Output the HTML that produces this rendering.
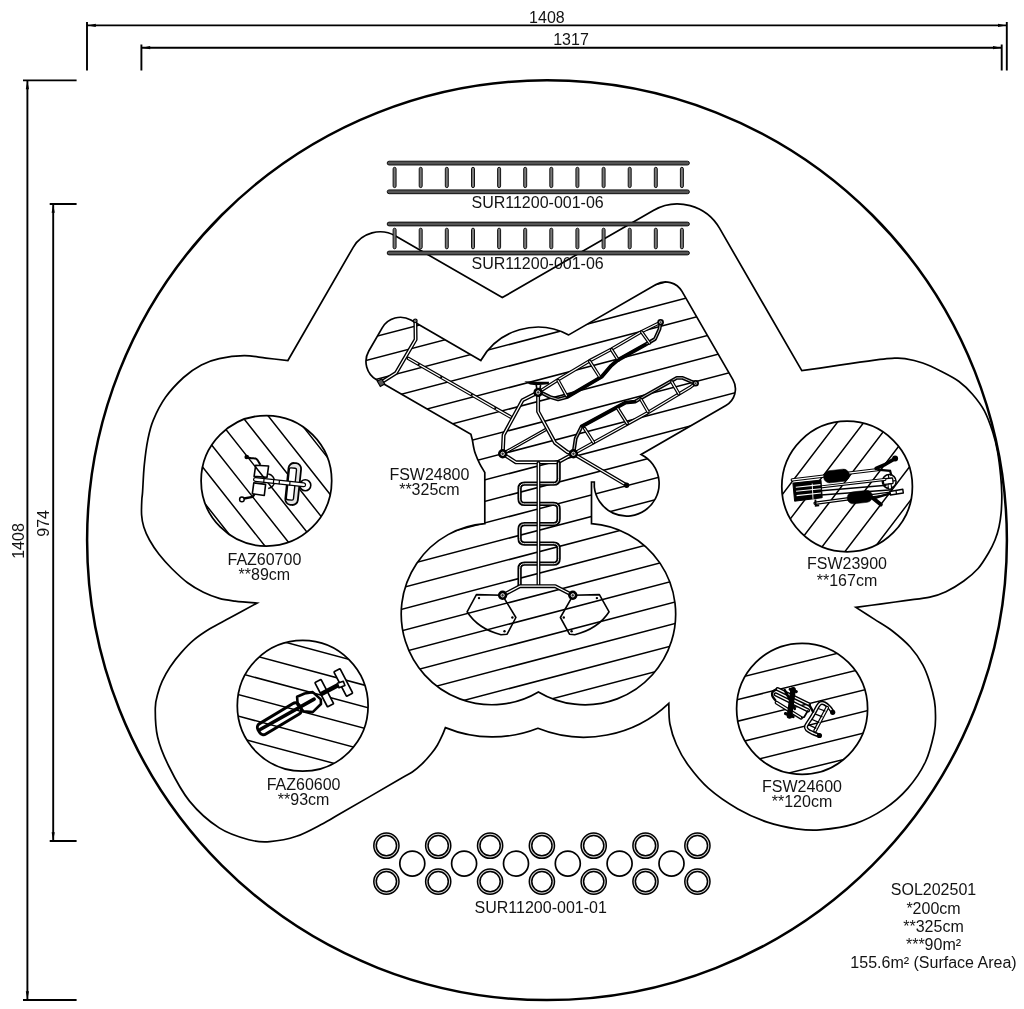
<!DOCTYPE html>
<html><head><meta charset="utf-8"><title>SOL202501</title>
<style>
html,body{margin:0;padding:0;background:#fff;}
body{width:1024px;height:1009px;overflow:hidden;font-family:"Liberation Sans",sans-serif;}
svg{display:block;}
text{font-family:"Liberation Sans",sans-serif;font-size:16px;fill:#111;text-anchor:middle;}
</style></head><body>
<svg width="1024" height="1009" viewBox="0 0 1024 1009">
<rect width="1024" height="1009" fill="#fff"/>
<g stroke="#000" stroke-width="1.9" fill="none" stroke-linecap="butt">
<path d="M87,22V70.5M1006.8,22V70.5M87,25.4H1006.8"/>
<path d="M141.4,44.4V70.5M1001.7,44.4V70.5M141.4,47.7H1001.7"/>
<path d="M23,80.4H76.6M23,1000H76.6M27.4,80.4V1000"/>
<path d="M49.7,204H76.6M49.7,841H76.6M53.2,204V841"/>
</g>
<path d="M87.8,25.4L95.8,23.8L95.8,27Z" fill="#000"/>
<path d="M1006,25.4L998,27L998,23.8Z" fill="#000"/>
<path d="M142.2,47.7L150.2,46.1L150.2,49.3Z" fill="#000"/>
<path d="M1001,47.7L993,49.3L993,46.1Z" fill="#000"/>
<path d="M27.4,81.2L29,89.2L25.8,89.2Z" fill="#000"/>
<path d="M27.4,999.2L25.8,991.2L29,991.2Z" fill="#000"/>
<path d="M53.2,204.8L54.8,212.8L51.6,212.8Z" fill="#000"/>
<path d="M53.2,840.2L51.6,832.2L54.8,832.2Z" fill="#000"/>
<circle cx="547" cy="540.2" r="459.9" fill="none" stroke="#000" stroke-width="2.5"/>
<path d="M287.9,360.5L353.2,247.3A31,31 0 0 1 395.6,236L502.3,297.6L653.3,210.4A48.5,48.5 0 0 1 719.5,228.2L801.8,370.7C804.8,370.3 812,369.3 820,368.1C828,366.9 840,365.1 850,363.7C860,362.2 872.9,360.3 879.9,359.4C886.9,358.5 887.8,358.4 892,358.3C896.2,358.2 899.8,357.8 904.9,358.6C910,359.4 916.8,360.9 922.7,363C928.6,365.1 934.5,367.9 940.5,371C946.5,374.1 953.7,377.6 959,381.5C964.3,385.4 968.3,389.4 972.5,394.3C976.7,399.2 981,404.6 984.4,410.9C987.8,417.2 990.6,425.6 992.8,432.3C995,439.1 996.2,444.3 997.5,451.4C998.8,458.5 999.9,468 1000.6,475.1C1001.3,482.2 1001.7,487.8 1001.8,494.2C1001.9,500.6 1001.6,507.7 1001.1,513.2C1000.6,518.7 1000,522.5 999,527C998,531.5 996.7,535.8 995,540C993.3,544.2 991.6,547.8 988.8,552.5C986,557.2 982.3,563.8 978.1,568.5C973.9,573.2 969.2,577.1 963.8,581C958.4,584.9 951.5,589 945.9,591.7C940.2,594.4 936.7,595.6 929.9,597.1C923.1,598.6 913.3,599.4 905,600.6C896.7,601.8 888.2,603 880,604.1C871.8,605.2 859.9,606.9 855.9,607.4C859,609.4 868.5,615.5 874.6,619.4C880.7,623.3 886.5,626.4 892.4,631C898.3,635.6 905.2,641.4 910.3,647C915.4,652.6 919.5,658.9 922.8,664.9C926.1,670.9 928,676.8 929.9,682.7C931.8,688.6 933.5,695.1 934.4,700.5C935.3,705.9 935.5,709.6 935.5,715C935.5,720.4 935.9,724.9 934.2,732.7C932.5,740.5 929.8,752.7 925.4,762C921,771.3 914.6,780.6 907.8,788.4C901,796.2 893.2,803 884.4,808.9C875.6,814.8 865.9,820.1 855.1,823.6C844.4,827.1 829.7,829 819.9,829.9C810.1,830.8 805.3,830.1 796.5,828.8C787.7,827.5 777,825.4 767.2,822.1C757.4,818.8 747.7,814.5 737.9,808.9C728.1,803.3 716.9,795.7 708.6,788.4C700.3,781.1 693.5,772.3 688.1,765C682.7,757.7 679.4,751.3 676.4,744.5C673.4,737.7 671.2,730.9 669.9,724C668.6,717.1 669,706.8 668.8,703.3A123.3,123.3 0 0 1 537.9,728.3A123.3,123.3 0 0 1 445.4,727.6C444.8,729 443.5,732.8 442.1,735.7C440.8,738.6 439.1,742.2 437.3,745.2C435.5,748.2 434,750.3 431.4,753.5C428.8,756.7 425,761.1 421.8,764.2C418.6,767.3 415.9,769.5 412.3,772C408.7,774.5 412.1,772.1 400,779.1C387.9,786.1 352.8,806.4 340,813.8C327.2,821.2 330.6,819.6 323.3,823.4C316.1,827.1 305.4,833.3 296.5,836.3C287.6,839.3 277.7,841 269.8,841.6C261.9,842.2 257.3,842.1 248.9,839.8C240.5,837.5 229.1,834.3 219.2,827.9C209.3,821.5 197.9,811.4 189.5,801.1C181.1,790.8 174,776.7 168.7,766C163.4,755.3 159.8,746.7 157.6,737C155.4,727.3 155.2,715.2 155.3,707.9C155.4,700.6 156.8,697.5 158,693C159.2,688.5 160.2,685.5 162.2,681.1C164.2,676.8 166.9,671.6 170.1,666.9C173.3,662.1 177.2,657.1 181.2,652.6C185.2,648.1 189.1,643.9 193.9,639.9C198.7,635.9 203.8,632.5 209.8,628.8C215.8,625.1 222.1,622.1 230,617.8C237.9,613.5 252.5,605.5 257,603.1C253.3,602.8 241.4,601.9 235.1,601.1C228.8,600.3 224.6,599.9 219.3,598.4C214,596.9 208.7,594.9 203.4,592.3C198.1,589.7 192.9,586.8 187.6,582.8C182.3,578.8 176.5,573.2 171.7,568.5C166.9,563.8 162.7,559 159,554.3C155.3,549.5 152,544.5 149.5,540C147,535.5 145.1,531.2 143.8,527C142.5,522.8 141.9,519.5 141.6,515C141.3,510.5 141.6,503.9 141.8,500C142,496.1 142.2,497.5 142.6,491.6C143,485.8 143.4,473.5 144.3,464.9C145.2,456.3 146.3,447.3 147.8,439.9C149.3,432.5 150.2,427.4 153.2,420.3C156.2,413.2 160.6,404.2 165.7,397.1C170.8,390 177.6,382.9 183.5,377.5C189.4,372.1 195.5,368.1 201.4,365C207.3,361.9 212.1,360.2 219.2,358.7C226.3,357.1 236.4,355.8 244.2,355.7C252,355.6 258.7,357.3 266,358.1C273.3,358.9 284.2,360.1 287.9,360.5Z" fill="none" stroke="#000" stroke-width="1.7" stroke-linejoin="miter"/>
<rect x="387.2" y="161.2" width="302.2" height="3.8" rx="1.9" fill="#555" stroke="#000" stroke-width="0.9"/>
<rect x="387.2" y="189.9" width="302.2" height="3.8" rx="1.9" fill="#555" stroke="#000" stroke-width="0.9"/>
<rect x="393.1" y="167.3" width="3" height="20.3" rx="1.5" fill="#777" stroke="#000" stroke-width="0.9"/>
<rect x="419.2" y="167.3" width="3" height="20.3" rx="1.5" fill="#777" stroke="#000" stroke-width="0.9"/>
<rect x="445.3" y="167.3" width="3" height="20.3" rx="1.5" fill="#777" stroke="#000" stroke-width="0.9"/>
<rect x="471.5" y="167.3" width="3" height="20.3" rx="1.5" fill="#777" stroke="#000" stroke-width="0.9"/>
<rect x="497.6" y="167.3" width="3" height="20.3" rx="1.5" fill="#777" stroke="#000" stroke-width="0.9"/>
<rect x="523.7" y="167.3" width="3" height="20.3" rx="1.5" fill="#777" stroke="#000" stroke-width="0.9"/>
<rect x="549.8" y="167.3" width="3" height="20.3" rx="1.5" fill="#777" stroke="#000" stroke-width="0.9"/>
<rect x="575.9" y="167.3" width="3" height="20.3" rx="1.5" fill="#777" stroke="#000" stroke-width="0.9"/>
<rect x="602.1" y="167.3" width="3" height="20.3" rx="1.5" fill="#777" stroke="#000" stroke-width="0.9"/>
<rect x="628.2" y="167.3" width="3" height="20.3" rx="1.5" fill="#777" stroke="#000" stroke-width="0.9"/>
<rect x="654.3" y="167.3" width="3" height="20.3" rx="1.5" fill="#777" stroke="#000" stroke-width="0.9"/>
<rect x="680.4" y="167.3" width="3" height="20.3" rx="1.5" fill="#777" stroke="#000" stroke-width="0.9"/>
<rect x="387.2" y="222.1" width="302.2" height="3.8" rx="1.9" fill="#555" stroke="#000" stroke-width="0.9"/>
<rect x="387.2" y="251.1" width="302.2" height="3.8" rx="1.9" fill="#555" stroke="#000" stroke-width="0.9"/>
<rect x="393.1" y="228.2" width="3" height="20.6" rx="1.5" fill="#777" stroke="#000" stroke-width="0.9"/>
<rect x="419.2" y="228.2" width="3" height="20.6" rx="1.5" fill="#777" stroke="#000" stroke-width="0.9"/>
<rect x="445.3" y="228.2" width="3" height="20.6" rx="1.5" fill="#777" stroke="#000" stroke-width="0.9"/>
<rect x="471.5" y="228.2" width="3" height="20.6" rx="1.5" fill="#777" stroke="#000" stroke-width="0.9"/>
<rect x="497.6" y="228.2" width="3" height="20.6" rx="1.5" fill="#777" stroke="#000" stroke-width="0.9"/>
<rect x="523.7" y="228.2" width="3" height="20.6" rx="1.5" fill="#777" stroke="#000" stroke-width="0.9"/>
<rect x="549.8" y="228.2" width="3" height="20.6" rx="1.5" fill="#777" stroke="#000" stroke-width="0.9"/>
<rect x="575.9" y="228.2" width="3" height="20.6" rx="1.5" fill="#777" stroke="#000" stroke-width="0.9"/>
<rect x="602.1" y="228.2" width="3" height="20.6" rx="1.5" fill="#777" stroke="#000" stroke-width="0.9"/>
<rect x="628.2" y="228.2" width="3" height="20.6" rx="1.5" fill="#777" stroke="#000" stroke-width="0.9"/>
<rect x="654.3" y="228.2" width="3" height="20.6" rx="1.5" fill="#777" stroke="#000" stroke-width="0.9"/>
<rect x="680.4" y="228.2" width="3" height="20.6" rx="1.5" fill="#777" stroke="#000" stroke-width="0.9"/>
<circle cx="386.4" cy="845.7" r="12.6" fill="#ddd" stroke="#000" stroke-width="1.5"/>
<circle cx="386.4" cy="845.7" r="10.1" fill="#fff" stroke="#000" stroke-width="1.5"/>
<circle cx="386.4" cy="881.6" r="12.6" fill="#ddd" stroke="#000" stroke-width="1.5"/>
<circle cx="386.4" cy="881.6" r="10.1" fill="#fff" stroke="#000" stroke-width="1.5"/>
<circle cx="438.2" cy="845.7" r="12.6" fill="#ddd" stroke="#000" stroke-width="1.5"/>
<circle cx="438.2" cy="845.7" r="10.1" fill="#fff" stroke="#000" stroke-width="1.5"/>
<circle cx="438.2" cy="881.6" r="12.6" fill="#ddd" stroke="#000" stroke-width="1.5"/>
<circle cx="438.2" cy="881.6" r="10.1" fill="#fff" stroke="#000" stroke-width="1.5"/>
<circle cx="490.1" cy="845.7" r="12.6" fill="#ddd" stroke="#000" stroke-width="1.5"/>
<circle cx="490.1" cy="845.7" r="10.1" fill="#fff" stroke="#000" stroke-width="1.5"/>
<circle cx="490.1" cy="881.6" r="12.6" fill="#ddd" stroke="#000" stroke-width="1.5"/>
<circle cx="490.1" cy="881.6" r="10.1" fill="#fff" stroke="#000" stroke-width="1.5"/>
<circle cx="541.9" cy="845.7" r="12.6" fill="#ddd" stroke="#000" stroke-width="1.5"/>
<circle cx="541.9" cy="845.7" r="10.1" fill="#fff" stroke="#000" stroke-width="1.5"/>
<circle cx="541.9" cy="881.6" r="12.6" fill="#ddd" stroke="#000" stroke-width="1.5"/>
<circle cx="541.9" cy="881.6" r="10.1" fill="#fff" stroke="#000" stroke-width="1.5"/>
<circle cx="593.7" cy="845.7" r="12.6" fill="#ddd" stroke="#000" stroke-width="1.5"/>
<circle cx="593.7" cy="845.7" r="10.1" fill="#fff" stroke="#000" stroke-width="1.5"/>
<circle cx="593.7" cy="881.6" r="12.6" fill="#ddd" stroke="#000" stroke-width="1.5"/>
<circle cx="593.7" cy="881.6" r="10.1" fill="#fff" stroke="#000" stroke-width="1.5"/>
<circle cx="645.5" cy="845.7" r="12.6" fill="#ddd" stroke="#000" stroke-width="1.5"/>
<circle cx="645.5" cy="845.7" r="10.1" fill="#fff" stroke="#000" stroke-width="1.5"/>
<circle cx="645.5" cy="881.6" r="12.6" fill="#ddd" stroke="#000" stroke-width="1.5"/>
<circle cx="645.5" cy="881.6" r="10.1" fill="#fff" stroke="#000" stroke-width="1.5"/>
<circle cx="697.4" cy="845.7" r="12.6" fill="#ddd" stroke="#000" stroke-width="1.5"/>
<circle cx="697.4" cy="845.7" r="10.1" fill="#fff" stroke="#000" stroke-width="1.5"/>
<circle cx="697.4" cy="881.6" r="12.6" fill="#ddd" stroke="#000" stroke-width="1.5"/>
<circle cx="697.4" cy="881.6" r="10.1" fill="#fff" stroke="#000" stroke-width="1.5"/>
<circle cx="412.3" cy="863.6" r="12.5" fill="none" stroke="#000" stroke-width="1.7"/>
<circle cx="464.1" cy="863.6" r="12.5" fill="none" stroke="#000" stroke-width="1.7"/>
<circle cx="516" cy="863.6" r="12.5" fill="none" stroke="#000" stroke-width="1.7"/>
<circle cx="567.8" cy="863.6" r="12.5" fill="none" stroke="#000" stroke-width="1.7"/>
<circle cx="619.6" cy="863.6" r="12.5" fill="none" stroke="#000" stroke-width="1.7"/>
<circle cx="671.5" cy="863.6" r="12.5" fill="none" stroke="#000" stroke-width="1.7"/>
<clipPath id="cc"><path d="M480.8,360.5L410.9,320.1A21,21 0 0 0 382.2,327.8L368.8,351A21,21 0 0 0 376.5,379.7L470.9,434.2C471.1,435.2 471.9,437.9 472.4,440C472.8,442.1 473.1,444.7 473.6,447C474.1,449.3 474.3,450.9 475.4,453.8C476.4,456.7 478.3,461 479.9,464.1C481.5,467.2 484,471.1 484.8,472.5L484.8,523.6A90.7,90.7 0 1 0 538.4,691.9A90.7,90.7 0 1 0 591.5,523.6L591.5,482L594.3,482L594.3,487A32.5,32.5 0 1 0 641.1,454.5L725.9,405.5A19,19 0 0 0 732.9,379.6L682,291.4A19,19 0 0 0 656,284.5L568.7,334.9A65.4,65.4 0 0 0 480.8,360.5Z"/></clipPath>
<path d="M340,66.4L760,-43.7M340,87.9L760,-22.2M340,109.4L760,-0.7M340,130.9L760,20.8M340,152.4L760,42.3M340,173.9L760,63.8M340,195.4L760,85.3M340,216.9L760,106.8M340,238.4L760,128.3M340,259.9L760,149.8M340,281.4L760,171.3M340,302.9L760,192.8M340,324.4L760,214.3M340,345.9L760,235.8M340,367.4L760,257.3M340,388.9L760,278.8M340,410.4L760,300.3M340,431.9L760,321.8M340,453.4L760,343.3M340,474.9L760,364.8M340,496.4L760,386.3M340,517.9L760,407.8M340,539.4L760,429.3M340,560.9L760,450.8M340,582.4L760,472.3M340,603.9L760,493.8M340,625.4L760,515.3M340,646.9L760,536.8M340,668.4L760,558.3M340,689.9L760,579.8M340,711.4L760,601.3M340,732.9L760,622.8M340,754.4L760,644.3M340,775.9L760,665.8M340,797.4L760,687.3M340,818.9L760,708.8M340,840.4L760,730.3" clip-path="url(#cc)" stroke="#000" stroke-width="1.5" fill="none"/>
<path d="M480.8,360.5L410.9,320.1A21,21 0 0 0 382.2,327.8L368.8,351A21,21 0 0 0 376.5,379.7L470.9,434.2C471.1,435.2 471.9,437.9 472.4,440C472.8,442.1 473.1,444.7 473.6,447C474.1,449.3 474.3,450.9 475.4,453.8C476.4,456.7 478.3,461 479.9,464.1C481.5,467.2 484,471.1 484.8,472.5L484.8,523.6A90.7,90.7 0 1 0 538.4,691.9A90.7,90.7 0 1 0 591.5,523.6L591.5,482L594.3,482L594.3,487A32.5,32.5 0 1 0 641.1,454.5L725.9,405.5A19,19 0 0 0 732.9,379.6L682,291.4A19,19 0 0 0 656,284.5L568.7,334.9A65.4,65.4 0 0 0 480.8,360.5Z" fill="none" stroke="#000" stroke-width="1.7"/>
<path d="M408.5,358.5L510.6,417" fill="none" stroke="#000" stroke-width="3.74" stroke-linejoin="round" stroke-linecap="round" />
<path d="M408.5,358.5L510.6,417" fill="none" stroke="#fff" stroke-width="1.25" stroke-linejoin="round" stroke-linecap="round"/>
<path d="M415.4,322L415.6,339.6L396,373L381,382.5" fill="none" stroke="#000" stroke-width="3.98" stroke-linejoin="round" stroke-linecap="round" />
<path d="M415.4,322L415.6,339.6L396,373L381,382.5" fill="none" stroke="#fff" stroke-width="1.25" stroke-linejoin="round" stroke-linecap="round"/>
<circle cx="415.3" cy="320.8" r="2.4" fill="#000"/><circle cx="415.3" cy="320.8" r="0.86" fill="#333" stroke="#eee" stroke-width="0.48"/>
<path d="M377.3,381.3l3,5.2l4.4,-2.5l-3,-5.2z" fill="#555" stroke="#000" stroke-width="1.2"/>
<circle cx="418.7" cy="364.4" r="1.1" fill="#000"/>
<circle cx="441.2" cy="377.2" r="1.1" fill="#000"/>
<circle cx="471.8" cy="394.8" r="1.1" fill="#000"/>
<circle cx="495.3" cy="408.2" r="1.1" fill="#000"/>
<path d="M573.4,453.8L626.6,485.2" fill="none" stroke="#000" stroke-width="3.74" stroke-linejoin="round" stroke-linecap="round" />
<path d="M573.4,453.8L626.6,485.2" fill="none" stroke="#fff" stroke-width="1.25" stroke-linejoin="round" stroke-linecap="round"/>
<circle cx="626.6" cy="485.3" r="2.7" fill="#000"/>
<path d="M502.7,453.8L547.2,428.8" fill="none" stroke="#000" stroke-width="3.28" stroke-linejoin="round" stroke-linecap="round" />
<path d="M502.7,453.8L547.2,428.8" fill="none" stroke="#fff" stroke-width="1.0" stroke-linejoin="round" stroke-linecap="round"/>
<path d="M538.1,392.4L522.5,400.3L503.6,435L502.7,453.8" fill="none" stroke="#000" stroke-width="3.98" stroke-linejoin="round" stroke-linecap="round" />
<path d="M538.1,392.4L522.5,400.3L503.6,435L502.7,453.8" fill="none" stroke="#fff" stroke-width="1.25" stroke-linejoin="round" stroke-linecap="round"/>
<path d="M538.1,394L538.1,411.6L555,442.8L567.5,452.2L573.4,453.8" fill="none" stroke="#000" stroke-width="3.98" stroke-linejoin="round" stroke-linecap="round" />
<path d="M538.1,394L538.1,411.6L555,442.8L567.5,452.2L573.4,453.8" fill="none" stroke="#fff" stroke-width="1.25" stroke-linejoin="round" stroke-linecap="round"/>
<path d="M502.7,453.8L515.9,462.3L558.1,462.3L573.4,453.8" fill="none" stroke="#000" stroke-width="3.98" stroke-linejoin="round" stroke-linecap="round" />
<path d="M502.7,453.8L515.9,462.3L558.1,462.3L573.4,453.8" fill="none" stroke="#fff" stroke-width="1.25" stroke-linejoin="round" stroke-linecap="round"/>
<path d="M538.1,392.4L558.1,379.7L589.4,360.9L611.3,349.2L640.9,332L655,325L660.6,322.2" fill="none" stroke="#000" stroke-width="3.51" stroke-linejoin="round" stroke-linecap="round" />
<path d="M538.1,392.4L558.1,379.7L589.4,360.9L611.3,349.2L640.9,332L655,325L660.6,322.2" fill="none" stroke="#fff" stroke-width="1.12" stroke-linejoin="round" stroke-linecap="round"/>
<path d="M543,393.5L550,397L558.1,399.4L567.5,396.9L601.9,376.6L611.3,365.6L617.5,360.2L645.6,344.5L655,339L659.5,329L660.6,322.2" fill="none" stroke="#000" stroke-width="3.86" stroke-linejoin="round" stroke-linecap="round" />
<path d="M543,393.5L550,397L558.1,399.4L567.5,396.9L601.9,376.6L611.3,365.6L617.5,360.2L645.6,344.5L655,339L659.5,329L660.6,322.2" fill="none" stroke="#fff" stroke-width="0.75" stroke-linejoin="round" stroke-linecap="round"/>
<path d="M558.1,380.5L566.7,396.1" fill="none" stroke="#000" stroke-width="3.51" stroke-linejoin="round" stroke-linecap="round" />
<path d="M558.1,380.5L566.7,396.1" fill="none" stroke="#fff" stroke-width="1.12" stroke-linejoin="round" stroke-linecap="round"/>
<path d="M589.7,361.3L599.5,376.6" fill="none" stroke="#000" stroke-width="3.51" stroke-linejoin="round" stroke-linecap="round" />
<path d="M589.7,361.3L599.5,376.6" fill="none" stroke="#fff" stroke-width="1.12" stroke-linejoin="round" stroke-linecap="round"/>
<path d="M611.6,349.7L618.3,360.2" fill="none" stroke="#000" stroke-width="3.51" stroke-linejoin="round" stroke-linecap="round" />
<path d="M611.6,349.7L618.3,360.2" fill="none" stroke="#fff" stroke-width="1.12" stroke-linejoin="round" stroke-linecap="round"/>
<path d="M641.7,332L649.5,343" fill="none" stroke="#000" stroke-width="3.51" stroke-linejoin="round" stroke-linecap="round" />
<path d="M641.7,332L649.5,343" fill="none" stroke="#fff" stroke-width="1.12" stroke-linejoin="round" stroke-linecap="round"/>
<path d="M573.4,453.8L648,412.6L690.6,386.9L695.6,383.3" fill="none" stroke="#000" stroke-width="3.51" stroke-linejoin="round" stroke-linecap="round" />
<path d="M573.4,453.8L648,412.6L690.6,386.9L695.6,383.3" fill="none" stroke="#fff" stroke-width="1.12" stroke-linejoin="round" stroke-linecap="round"/>
<path d="M573.4,453.8L575.7,438.4L581.6,426.5L625.2,402.7L635.1,401.7L645.1,395.8L676.8,377.9L682.7,377.9L690.6,381.3L695.6,383.3" fill="none" stroke="#000" stroke-width="3.86" stroke-linejoin="round" stroke-linecap="round" />
<path d="M573.4,453.8L575.7,438.4L581.6,426.5L625.2,402.7L635.1,401.7L645.1,395.8L676.8,377.9L682.7,377.9L690.6,381.3L695.6,383.3" fill="none" stroke="#fff" stroke-width="0.75" stroke-linejoin="round" stroke-linecap="round"/>
<path d="M584.6,428.5L593.5,442.4" fill="none" stroke="#000" stroke-width="3.51" stroke-linejoin="round" stroke-linecap="round" />
<path d="M584.6,428.5L593.5,442.4" fill="none" stroke="#fff" stroke-width="1.12" stroke-linejoin="round" stroke-linecap="round"/>
<path d="M617.3,407.7L627.2,423.5" fill="none" stroke="#000" stroke-width="3.51" stroke-linejoin="round" stroke-linecap="round" />
<path d="M617.3,407.7L627.2,423.5" fill="none" stroke="#fff" stroke-width="1.12" stroke-linejoin="round" stroke-linecap="round"/>
<path d="M641.1,399.7L648,411.6" fill="none" stroke="#000" stroke-width="3.51" stroke-linejoin="round" stroke-linecap="round" />
<path d="M641.1,399.7L648,411.6" fill="none" stroke="#fff" stroke-width="1.12" stroke-linejoin="round" stroke-linecap="round"/>
<path d="M671.8,381.9L678.8,393.8" fill="none" stroke="#000" stroke-width="3.51" stroke-linejoin="round" stroke-linecap="round" />
<path d="M671.8,381.9L678.8,393.8" fill="none" stroke="#fff" stroke-width="1.12" stroke-linejoin="round" stroke-linecap="round"/>
<path d="M567.5,396.9L601.9,376.6L611.3,365.6L617.5,360.2L645.6,344.5M581.6,426.5L625.2,402.7L635.1,401.7" fill="none" stroke="#000" stroke-width="2.6" stroke-linejoin="round" stroke-linecap="round"/>
<circle cx="660.6" cy="322.2" r="3.3" fill="#000"/><circle cx="660.6" cy="322.2" r="1.19" fill="#333" stroke="#eee" stroke-width="0.66"/>
<circle cx="695.6" cy="383.3" r="3.3" fill="#000"/><circle cx="695.6" cy="383.3" r="1.19" fill="#333" stroke="#eee" stroke-width="0.66"/>
<path d="M524.3,381.2L530,384.6L536,385.2L548.8,384.2L549,381.8L536,381.8Z" fill="#000"/>
<path d="M536.2,385L537.4,392M540.6,385L539.4,392" stroke="#000" stroke-width="1.6"/>
<path d="M558.6,463V478.7Q558.6,483.7 553.6,483.7H524.6Q519.6,483.7 519.6,488.7V498.9Q519.6,503.9 524.6,503.9H553.6Q558.6,503.9 558.6,508.9V519.1Q558.6,524.1 553.6,524.1H524.6Q519.6,524.1 519.6,529.1V538.6Q519.6,543.6 524.6,543.6H553.6Q558.6,543.6 558.6,548.6V558.7Q558.6,563.7 553.6,563.7H524.6Q519.6,563.7 519.6,568.7V586" fill="none" stroke="#000" stroke-width="4.33" stroke-linejoin="round" stroke-linecap="round" />
<path d="M558.6,463V478.7Q558.6,483.7 553.6,483.7H524.6Q519.6,483.7 519.6,488.7V498.9Q519.6,503.9 524.6,503.9H553.6Q558.6,503.9 558.6,508.9V519.1Q558.6,524.1 553.6,524.1H524.6Q519.6,524.1 519.6,529.1V538.6Q519.6,543.6 524.6,543.6H553.6Q558.6,543.6 558.6,548.6V558.7Q558.6,563.7 553.6,563.7H524.6Q519.6,563.7 519.6,568.7V586" fill="none" stroke="#e8e8e8" stroke-width="1.0" stroke-linejoin="round" stroke-linecap="round"/>
<path d="M538.45,463V585.5" fill="none" stroke="#000" stroke-width="3.86" stroke-linejoin="round" stroke-linecap="round" />
<path d="M538.45,463V585.5" fill="none" stroke="#fff" stroke-width="1.25" stroke-linejoin="round" stroke-linecap="round"/>
<path d="M502.6,595.3L519.8,586.2L555.3,586.2L572.8,595.3" fill="none" stroke="#000" stroke-width="3.98" stroke-linejoin="round" stroke-linecap="round" />
<path d="M502.6,595.3L519.8,586.2L555.3,586.2L572.8,595.3" fill="none" stroke="#fff" stroke-width="1.25" stroke-linejoin="round" stroke-linecap="round"/>
<path d="M502.4,595.3L476.4,594.6L467.1,611.8Q478,629 501,634.7L507.1,634.2L515.9,617.5ZM573,595.3L599.4,594.6L609.1,611.8Q598,629 574.8,634.7L569.5,634.2L560.4,617.5Z" fill="none" stroke="#000" stroke-width="1.6" stroke-linejoin="round"/>
<circle cx="479" cy="598.1" r="1.2" fill="#000"/>
<circle cx="512.4" cy="617.5" r="1.2" fill="#000"/>
<circle cx="504.5" cy="631.2" r="1.2" fill="#000"/>
<circle cx="596.9" cy="598.1" r="1.2" fill="#000"/>
<circle cx="563.8" cy="617.5" r="1.2" fill="#000"/>
<circle cx="571.6" cy="631.2" r="1.2" fill="#000"/>
<circle cx="538.1" cy="392.4" r="4.7" fill="#000"/><circle cx="538.1" cy="392.4" r="1.69" fill="#333" stroke="#eee" stroke-width="0.94"/>
<circle cx="502.7" cy="453.8" r="4.7" fill="#000"/><circle cx="502.7" cy="453.8" r="1.69" fill="#333" stroke="#eee" stroke-width="0.94"/>
<circle cx="573.4" cy="453.8" r="4.7" fill="#000"/><circle cx="573.4" cy="453.8" r="1.69" fill="#333" stroke="#eee" stroke-width="0.94"/>
<circle cx="502.6" cy="595.3" r="4.7" fill="#000"/><circle cx="502.6" cy="595.3" r="1.69" fill="#333" stroke="#eee" stroke-width="0.94"/>
<circle cx="572.8" cy="595.3" r="4.7" fill="#000"/><circle cx="572.8" cy="595.3" r="1.69" fill="#333" stroke="#eee" stroke-width="0.94"/>
<clipPath id="c1"><circle cx="266.4" cy="480.8" r="65.3"/></clipPath>
<path d="M190,283.4L345,479.6M190,316.9L345,513.2M190,350.5L345,546.7M190,384L345,580.3M190,417.6L345,613.8M190,451.1L345,647.4M190,484.7L345,680.9" clip-path="url(#c1)" stroke="#000" stroke-width="1.5" fill="none"/>
<circle cx="266.4" cy="480.8" r="65.3" fill="none" stroke="#000" stroke-width="1.75"/>
<clipPath id="c2"><circle cx="302.7" cy="705.8" r="65.4"/></clipPath>
<path d="M230,627.4L380,667.6M230,649.1L380,689.3M230,670.7L380,710.9M230,692.3L380,732.5M230,713.9L380,754.1M230,735.5L380,775.7" clip-path="url(#c2)" stroke="#000" stroke-width="1.5" fill="none"/>
<circle cx="302.7" cy="705.8" r="65.4" fill="none" stroke="#000" stroke-width="1.75"/>
<clipPath id="c3"><circle cx="847.1" cy="486.5" r="65.3"/></clipPath>
<path d="M775,504.2L920,313.9M775,539L920,348.7M775,573.8L920,383.5M775,608.6L920,418.3M775,643.4L920,453.1M775,678.2L920,487.9" clip-path="url(#c3)" stroke="#000" stroke-width="1.5" fill="none"/>
<circle cx="847.1" cy="486.5" r="65.3" fill="none" stroke="#000" stroke-width="1.75"/>
<clipPath id="c4"><circle cx="802.1" cy="708.8" r="65.5"/></clipPath>
<path d="M730,680L875,644.1M730,701.5L875,665.7M730,723.1L875,687.2M730,744.6L875,708.7M730,766.1L875,730.2M730,787.6L875,751.7" clip-path="url(#c4)" stroke="#000" stroke-width="1.5" fill="none"/>
<circle cx="802.1" cy="708.8" r="65.5" fill="none" stroke="#000" stroke-width="1.75"/>
<circle cx="305.3" cy="485.2" r="5.5" fill="#fff" stroke="#000" stroke-width="1.6"/>
<path d="M268.2,474.1A7.2,7.2 0 0 1 268.2,488.4" fill="none" stroke="#000" stroke-width="1.5"/>
<path d="M255.7,465.2L268.6,466L267,477.3L254.1,476.4Z" fill="none" stroke="#000" stroke-width="1.6" stroke-linejoin="round" />
<path d="M253.8,482.8L265.6,484.4L264.3,495.5L252.3,493.8Z" fill="none" stroke="#000" stroke-width="1.6" stroke-linejoin="round" />
<rect x="-6.3" y="-21" width="12.6" height="42" rx="5.5" fill="#e4e4e4" stroke="#000" stroke-width="1.8" transform="translate(293.2,484) rotate(6)"/>
<rect x="-3.6" y="-16" width="7.2" height="32" rx="1.5" fill="#fff" stroke="#000" stroke-width="1.4" transform="translate(291.4,484) rotate(6)"/>
<path d="M255.5,479.5L303.6,484.8" fill="none" stroke="#000" stroke-width="5.03" stroke-linejoin="round" stroke-linecap="round" />
<path d="M255.5,479.5L303.6,484.8" fill="none" stroke="#fff" stroke-width="2.62" stroke-linejoin="round" stroke-linecap="round"/>
<path d="M264.1,478.3L263.7,482.7" stroke="#000" stroke-width="1.2"/>
<path d="M273.8,479.3L273.3,483.7" stroke="#000" stroke-width="1.2"/>
<path d="M279.5,480L279.1,484.3" stroke="#000" stroke-width="1.2"/>
<path d="M290.1,481.1L289.6,485.5" stroke="#000" stroke-width="1.2"/>
<path d="M246.7,457.2C247.5,457.4 249.8,457.9 251.4,458.2C253,458.5 255,457.9 256.5,459C258,460.1 259.7,463.9 260.4,464.8" fill="none" stroke="#000" stroke-width="2"/>
<circle cx="246.7" cy="457" r="2.3" fill="#000"/>
<path d="M242.8,498.8L252.6,496.9L254.5,494.1" fill="none" stroke="#000" stroke-width="2.4" stroke-linejoin="round"/>
<circle cx="241.9" cy="499.4" r="2.3" fill="#fff" stroke="#000" stroke-width="1.5"/>
<rect x="-24" y="-6.1" width="48" height="12.2" rx="4.5" fill="none" stroke="#000" stroke-width="3.0" transform="translate(279.4,718.8) rotate(-31)"/>
<path d="M297.1,696.8L304.6,693.5L312.7,692.1L320.8,699.4L321,704L312.7,712.1L303.6,711.3L297.7,704.8Z" fill="none" stroke="#000" stroke-width="2.6" stroke-linejoin="round" />
<path d="M260.6,729.3L314.1,699.1" stroke="#000" stroke-width="3.6" stroke-linecap="round" fill="none"/>
<rect x="-3.5" y="-13.8" width="7" height="27.5" rx="0.8" fill="#fff" stroke="#000" stroke-width="1.7" transform="translate(324.3,693.2) rotate(-27.5)"/>
<rect x="-3.5" y="-13.8" width="7" height="27.5" rx="0.8" fill="#fff" stroke="#000" stroke-width="1.7" transform="translate(343.3,682.5) rotate(-27.5)"/>
<path d="M320.8,694.3L337.9,685.3" stroke="#000" stroke-width="4.6" fill="none"/>
<path d="M337.4,683.3L343.3,681.2L344.9,685.5L339,687.8Z" fill="#fff" stroke="#000" stroke-width="1.6" stroke-linejoin="round" />
<circle cx="889.2" cy="481.5" r="6.9" fill="#fff" stroke="#000" stroke-width="1.5"/>
<path d="M882.7,482.3L895.7,480.7M888.4,475L890,488" stroke="#000" stroke-width="1.2"/>
<rect x="-4.8" y="-2.8" width="9.5" height="5.6" rx="0.8" fill="#fff" stroke="#000" stroke-width="1.3" transform="translate(888.2,481.2) rotate(-6)"/>
<rect x="-1.6" y="-2.5" width="3.2" height="5" rx="0.6" fill="#fff" stroke="#000" stroke-width="1.1" transform="translate(889.8,486.5) rotate(-6)"/>
<path d="M792.3,479.9L877.8,469.6" fill="none" stroke="#000" stroke-width="3.39" stroke-linejoin="round" stroke-linecap="round" />
<path d="M792.3,479.9L877.8,469.6" fill="none" stroke="#fff" stroke-width="1.12" stroke-linejoin="round" stroke-linecap="round"/>
<path d="M820.4,486.9L884.9,479.4" fill="none" stroke="#000" stroke-width="3.04" stroke-linejoin="round" stroke-linecap="round" />
<path d="M820.4,486.9L884.9,479.4" fill="none" stroke="#fff" stroke-width="1.0" stroke-linejoin="round" stroke-linecap="round"/>
<path d="M821,490.7L886.6,485.2M821,495.1L892.5,489.7" stroke="#000" stroke-width="1.5" fill="none"/>
<path d="M815.1,503.3L890.1,493.3" fill="none" stroke="#000" stroke-width="3.39" stroke-linejoin="round" stroke-linecap="round" />
<path d="M815.1,503.3L890.1,493.3" fill="none" stroke="#fff" stroke-width="1.12" stroke-linejoin="round" stroke-linecap="round"/>
<path d="M792.9,483.1L821,480.1L822.2,497.7L794.6,501.2Z" fill="#000" stroke="#000" stroke-width="1.0" stroke-linejoin="round" />
<path d="M795.8,487.2L820.4,484.6" stroke="#fff" stroke-width="1.1"/>
<path d="M796.1,491.3L820.8,488.7" stroke="#fff" stroke-width="1.1"/>
<path d="M796.6,495.6L821,493" stroke="#fff" stroke-width="1.1"/>
<path d="M812.2,483.6L813,498.9" stroke="#fff" stroke-width="0.9"/>
<path d="M815.4,499.5L815.7,505.7L819.2,505.3" stroke="#000" stroke-width="1.8" fill="none"/>
<rect x="-13" y="-6.1" width="26" height="12.2" rx="6.1" fill="#000" stroke="#000" stroke-width="0.5" transform="translate(836.5,476) rotate(-6.5)"/>
<rect x="-12.8" y="-6" width="25.5" height="12" rx="6" fill="#000" stroke="#000" stroke-width="0.5" transform="translate(859.9,497.1) rotate(-6.5)"/>
<path d="M876.1,468.4L885.4,464.3L895.4,458.4" stroke="#000" stroke-width="3.6" stroke-linecap="round" fill="none" stroke-linejoin="round"/>
<circle cx="895.1" cy="458.6" r="3" fill="#000"/>
<path d="M877.2,469.6L890.1,470.8L891.3,475.4" stroke="#000" stroke-width="2.2" fill="none"/>
<path d="M889.9,491.6L902.8,489.3L903.3,493L890.6,495.1Z" fill="#fff" stroke="#000" stroke-width="1.5" stroke-linejoin="round" />
<path d="M896,490.7L896.5,494.2" stroke="#000" stroke-width="1.2"/>
<path d="M873.1,498.3L880.8,504.5" stroke="#000" stroke-width="4" stroke-linecap="round" fill="none"/>
<path d="M873.7,498.3L890.1,493.3" stroke="#000" stroke-width="2.4" fill="none"/>
<path d="M832.7,712.1C832.1,711.3 830.6,708.7 829.2,707.2C827.8,705.8 825.9,704.2 824.5,703.5C823.1,702.8 821.6,702.8 820.6,703.2C819.6,703.6 819.7,703.4 818.2,705.7C816.8,707.9 814,713.2 812,716.6C810,720 806.9,723.8 806.1,726C805.4,728.2 806.2,728.7 807.3,729.9C808.4,731.1 810.8,732.1 812.8,733C814.8,734 818.3,735.1 819.4,735.5" fill="none" stroke="#000" stroke-width="4.21" stroke-linejoin="round" stroke-linecap="round" />
<path d="M832.7,712.1C832.1,711.3 830.6,708.7 829.2,707.2C827.8,705.8 825.9,704.2 824.5,703.5C823.1,702.8 821.6,702.8 820.6,703.2C819.6,703.6 819.7,703.4 818.2,705.7C816.8,707.9 814,713.2 812,716.6C810,720 806.9,723.8 806.1,726C805.4,728.2 806.2,728.7 807.3,729.9C808.4,731.1 810.8,732.1 812.8,733C814.8,734 818.3,735.1 819.4,735.5" fill="none" stroke="#fff" stroke-width="1.38" stroke-linejoin="round" stroke-linecap="round"/>
<path d="M827.2,707.6L815.1,730.7" fill="none" stroke="#000" stroke-width="3.74" stroke-linejoin="round" stroke-linecap="round" />
<path d="M827.2,707.6L815.1,730.7" fill="none" stroke="#fff" stroke-width="1.38" stroke-linejoin="round" stroke-linecap="round"/>
<path d="M818.2,708.5L825.4,711.1" stroke="#000" stroke-width="1.2"/>
<path d="M814.9,713.9L822.4,716.9" stroke="#000" stroke-width="1.2"/>
<path d="M811.6,719.3L819.4,722.6" stroke="#000" stroke-width="1.2"/>
<path d="M808.2,724.6L816.3,728.4" stroke="#000" stroke-width="1.2"/>
<circle cx="832.7" cy="712.3" r="2.6" fill="#000"/>
<circle cx="819.4" cy="735.5" r="2.6" fill="#000"/>
<path d="M777.6,688.9C776.8,689.3 773.8,690.5 772.9,691.6C772,692.7 771.8,694.1 772.2,695.5C772.5,697 774.8,699.4 775.3,700.2" fill="none" stroke="#000" stroke-width="2.4" stroke-linecap="round"/>
<path d="M777.6,689.1L808.9,704.3" fill="none" stroke="#000" stroke-width="4.21" stroke-linejoin="round" stroke-linecap="round" />
<path d="M777.6,689.1L808.9,704.3" fill="none" stroke="#fff" stroke-width="1.25" stroke-linejoin="round" stroke-linecap="round"/>
<path d="M775.7,694.4L808.1,710.4" fill="none" stroke="#000" stroke-width="4.21" stroke-linejoin="round" stroke-linecap="round" />
<path d="M775.7,694.4L808.1,710.4" fill="none" stroke="#fff" stroke-width="1.25" stroke-linejoin="round" stroke-linecap="round"/>
<path d="M776.5,702.6L801.1,717.8" fill="none" stroke="#000" stroke-width="3.74" stroke-linejoin="round" stroke-linecap="round" />
<path d="M776.5,702.6L801.1,717.8" fill="none" stroke="#fff" stroke-width="1.25" stroke-linejoin="round" stroke-linecap="round"/>
<path d="M808.1,710.4L804.2,717L801.1,717.8" fill="none" stroke="#000" stroke-width="1.8"/>
<path d="M808.9,704.3L813.6,712.7" fill="none" stroke="#000" stroke-width="2.4"/>
<path d="M793.1,689.7L789.5,716" stroke="#000" stroke-width="5.6" stroke-linecap="round"/>
<path d="M784.7,690.1L794.8,708.8" stroke="#000" stroke-width="2.6" stroke-linecap="round"/>
<path d="M785.4,713.5L793.2,716.6" stroke="#000" stroke-width="3" stroke-linecap="round"/>
<path d="M790.1,689.3L796.4,691.6" stroke="#000" stroke-width="3" stroke-linecap="round"/>
<g opacity="0.99"><text x="546.9" y="22.5">1408</text>
<text x="571" y="44.6">1317</text>
<text transform="translate(23.8,541) rotate(-90)">1408</text>
<text transform="translate(49.2,523.4) rotate(-90)">974</text>
<text x="537.6" y="207.6">SUR11200-001-06</text>
<text x="537.6" y="269.2">SUR11200-001-06</text>
<text x="540.7" y="912.8">SUR11200-001-01</text>
<text x="264.4" y="564.6">FAZ60700</text><text x="264.4" y="579.5">**89cm</text>
<text x="303.6" y="790">FAZ60600</text><text x="303.6" y="805.4">**93cm</text>
<text x="847" y="569.2">FSW23900</text><text x="847" y="586.2">**167cm</text>
<text x="802" y="792">FSW24600</text><text x="802" y="807.4">**120cm</text>
<text x="429.4" y="479.5">FSW24800</text><text x="429.4" y="495.1">**325cm</text>
<text x="933.5" y="895.1">SOL202501</text>
<text x="933.5" y="913.5">*200cm</text>
<text x="933.5" y="932">**325cm</text>
<text x="933.5" y="950">***90m²</text>
<text x="933.5" y="967.9">155.6m² (Surface Area)</text></g>
</svg>
</body></html>
